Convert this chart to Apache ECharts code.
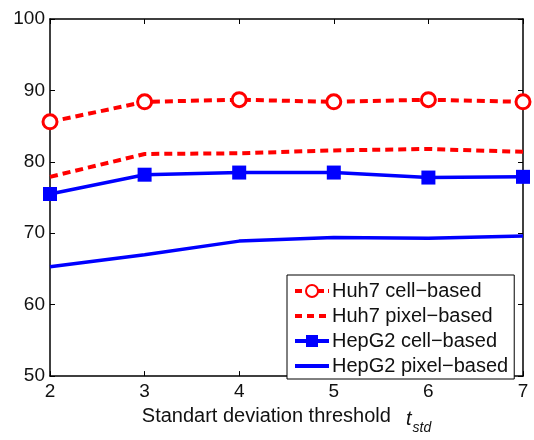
<!DOCTYPE html>
<html>
<head>
<meta charset="utf-8">
<style>
  html, body { margin: 0; padding: 0; background: #fff; }
  #chart { width: 534px; height: 440px; }
</style>
<script src="https://cdn.jsdelivr.net/npm/echarts@6/dist/echarts.min.js"></script>
</head>
<body>
<div id="chart"></div>
<script>
// Threshold values t_std along the x axis
const thresholds = [2, 3, 4, 5, 6, 7];
const yTicks = [50, 60, 70, 80, 90, 100];

// Accuracy (%) per threshold
const huh7Cell   = [85.6, 88.4, 88.7, 88.4, 88.7, 88.4];
const huh7Pixel  = [77.9, 81.1, 81.2, 81.6, 81.8, 81.4];
const hepg2Cell  = [75.5, 78.2, 78.5, 78.5, 77.8, 77.9];
const hepg2Pixel = [65.3, 67.0, 68.9, 69.4, 69.3, 69.6];

const seriesNames = ['Huh7 cell\u2212based', 'Huh7 pixel\u2212based', 'HepG2 cell\u2212based', 'HepG2 pixel\u2212based'];

const RED = '#ff0000';
const BLUE = '#0000ff';
const FONT = 'Liberation Sans';
const TEXT = '#111';

const pairs = arr => thresholds.map((t, i) => [t, arr[i]]);

const chart = echarts.init(document.getElementById('chart'), null, { renderer: 'canvas' });

const tickCommon = { show: true, inside: true, length: 5, lineStyle: { color: '#000', width: 1 } };
const frameLine = { show: true, onZero: false, lineStyle: { color: '#000', width: 1.5 } };

chart.setOption({
  animation: false,
  backgroundColor: '#fff',
  textStyle: { fontFamily: FONT },
  grid: { left: 50, right: 11, top: 19, bottom: 56, containLabel: false },
  legend: {
    orient: 'vertical',
    left: 287,
    top: 275,
    width: 231,
    padding: [6, 6, 3, 6],
    itemWidth: 34,
    itemHeight: 15,
    itemGap: 5,
    backgroundColor: '#fff',
    borderColor: '#000',
    borderWidth: 1,
    textStyle: { fontFamily: FONT, fontSize: 20, color: TEXT, padding: [0, 0, 0, -2] },
    data: [
      { name: seriesNames[0], lineStyle: { width: 4, type: [7, 4] } },
      { name: seriesNames[1], lineStyle: { width: 4, type: [7, 5] }, itemStyle: { opacity: 0 } },
      { name: seriesNames[2], lineStyle: { width: 4 } },
      { name: seriesNames[3], lineStyle: { width: 4 }, itemStyle: { opacity: 0 } }
    ]
  },
  xAxis: [
    {
      type: 'value', min: 2, max: 7, interval: 1, position: 'bottom',
      axisLine: frameLine,
      axisTick: tickCommon,
      splitLine: { show: false },
      axisLabel: { color: TEXT, fontSize: 19, fontFamily: FONT, margin: 6 },
      name: '{a|Standart deviation threshold  }{t|t}{s|std}',
      nameLocation: 'middle',
      nameGap: 27,
      nameTextStyle: {
        rich: {
          a: { fontSize: 20, fontFamily: FONT, color: TEXT, verticalAlign: 'top', padding: [0, 0, 0, 0] },
          t: { fontSize: 20, fontFamily: FONT, fontStyle: 'italic', color: TEXT, verticalAlign: 'top', padding: [3, 1, 0, 4] },
          s: { fontSize: 14, fontFamily: FONT, fontStyle: 'italic', color: TEXT, verticalAlign: 'top', padding: [15, 0, 0, 0] }
        }
      }
    },
    {
      type: 'value', min: 2, max: 7, interval: 1, position: 'top',
      axisLine: frameLine,
      axisTick: tickCommon,
      axisLabel: { show: false },
      splitLine: { show: false }
    }
  ],
  yAxis: [
    {
      type: 'value', min: 50, max: 100, interval: 10, position: 'left',
      axisLine: frameLine,
      axisTick: tickCommon,
      splitLine: { show: false },
      axisLabel: {
        color: TEXT, fontSize: 19, fontFamily: FONT, margin: 5,
        formatter: v => yTicks.includes(v) ? String(v) : ''
      }
    },
    {
      type: 'value', min: 50, max: 100, interval: 10, position: 'right',
      axisLine: frameLine,
      axisTick: tickCommon,
      axisLabel: { show: false },
      splitLine: { show: false }
    }
  ],
  series: [
    {
      name: seriesNames[0], type: 'line', data: pairs(huh7Cell),
      symbol: 'circle', symbolSize: 14, showAllSymbol: true,
      lineStyle: { color: RED, width: 4, type: [8, 5] },
      itemStyle: { color: '#fff', borderColor: RED, borderWidth: 3 },
      z: 4
    },
    {
      name: seriesNames[1], type: 'line', data: pairs(huh7Pixel),
      symbol: 'none',
      lineStyle: { color: RED, width: 4, type: [8, 5] },
      itemStyle: { color: RED },
      z: 3
    },
    {
      name: seriesNames[2], type: 'line', data: pairs(hepg2Cell),
      symbol: 'rect', symbolSize: 14, showAllSymbol: true,
      lineStyle: { color: BLUE, width: 3.5 },
      itemStyle: { color: BLUE },
      z: 4
    },
    {
      name: seriesNames[3], type: 'line', data: pairs(hepg2Pixel),
      symbol: 'none',
      lineStyle: { color: BLUE, width: 3.5 },
      itemStyle: { color: BLUE },
      z: 3
    }
  ]
});
</script>
</body>
</html>
